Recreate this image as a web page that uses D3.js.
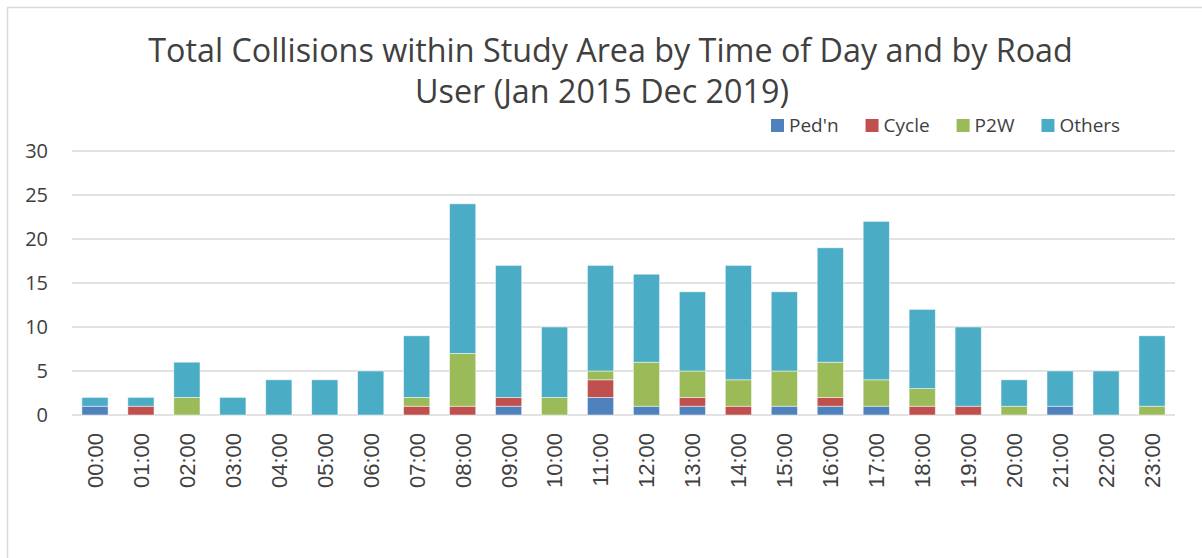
<!DOCTYPE html>
<html>
<head>
<meta charset="utf-8">
<script src="https://cdn.jsdelivr.net/npm/d3@7"></script>
<style>
  html, body { margin: 0; padding: 0; background: #fff; }
  svg { display: block; }
</style>
</head>
<body>
<svg id="chart" width="1202" height="558"></svg>
<script>
// ---- Data ----
const hours = ["00:00","01:00","02:00","03:00","04:00","05:00","06:00","07:00","08:00","09:00","10:00","11:00",
               "12:00","13:00","14:00","15:00","16:00","17:00","18:00","19:00","20:00","21:00","22:00","23:00"];
const seriesNames = ["Ped'n", "Cycle", "P2W", "Others"];
const pedn   = [1,0,0,0,0,0,0,0,0,1,0,2,1,1,0,1,1,1,0,0,0,1,0,0];
const cycle  = [0,1,0,0,0,0,0,1,1,1,0,2,0,1,1,0,1,0,1,1,0,0,0,0];
const p2w    = [0,0,2,0,0,0,0,1,6,0,2,1,5,3,3,4,4,3,2,0,1,0,0,1];
const others = [1,1,4,2,4,4,5,7,17,15,8,12,10,9,13,9,13,18,9,9,3,4,5,8];
const yTicks = [0,5,10,15,20,25,30];
const titleLines = ["Total Collisions within Study Area by Time of Day and by Road", "User (Jan 2015 Dec 2019)"];
const colors = ["#4F81BD", "#C0504D", "#9BBB59", "#4BACC6"];

// ---- Build table ----
const seriesValues = [pedn, cycle, p2w, others];
const table = hours.map((h, i) => {
  const row = { hour: h };
  seriesNames.forEach((s, k) => row[s] = seriesValues[k][i]);
  return row;
});
const stacked = d3.stack().keys(seriesNames)(table);

const svg = d3.select("#chart");
const plot = { left: 72, right: 1175, top: 151, bottom: 415 };

// chart border
svg.append("rect")
  .attr("x", 7.5).attr("y", 7.5).attr("width", 1300).attr("height", 600)
  .attr("fill", "none").attr("stroke", "#d9d9d9").attr("stroke-width", 1.5);

const x = d3.scaleBand().domain(hours).range([plot.left, plot.right])
  .paddingInner(0.43).paddingOuter(0.215);
const y = d3.scaleLinear().domain([0, 30]).range([plot.bottom, plot.top]);

// gridlines
svg.append("g").selectAll("line").data(yTicks).join("line")
  .attr("x1", plot.left).attr("x2", plot.right)
  .attr("y1", d => y(d)).attr("y2", d => y(d))
  .attr("stroke", "#d9d9d9").attr("stroke-width", 1.5);

// y tick labels
svg.append("g").selectAll("text").data(yTicks).join("text")
  .attr("x", 48).attr("y", d => y(d)).attr("dy", "0.36em")
  .attr("text-anchor", "end")
  .attr("font-family", "'Open Sans', sans-serif").attr("font-size", 20)
  .attr("fill", "#404040")
  .text(d => d);

// bars
svg.append("g").selectAll("g").data(stacked).join("g")
  .attr("fill", (d, i) => colors[i])
  .selectAll("rect").data(d => d.filter(v => v[1] - v[0] > 0)).join("rect")
  .attr("x", d => x(d.data.hour))
  .attr("width", x.bandwidth())
  .attr("y", d => y(d[1]))
  .attr("height", d => y(d[0]) - y(d[1]))
  .attr("stroke", "#ffffff").attr("stroke-opacity", 0.6).attr("stroke-width", 0.8);

// x labels
svg.append("g").selectAll("text").data(hours).join("text")
  .attr("transform", d => `translate(${x(d) + x.bandwidth() / 2},433) rotate(-90)`)
  .attr("dy", "0.36em")
  .attr("text-anchor", "end")
  .attr("font-family", "'Liberation Sans', Arial, sans-serif").attr("font-size", 22)
  .attr("fill", "#404040")
  .text(d => d);

// title
const t1 = svg.append("text")
  .attr("x", 610.5).attr("y", 62).attr("text-anchor", "middle")
  .attr("font-family", "'Open Sans', sans-serif").attr("font-size", 30)
  .attr("fill", "#404040").text(titleLines[0]);
const w1 = t1.node().getComputedTextLength();
const titleSize = 30 * 925 / w1;
t1.attr("font-size", titleSize);
svg.append("text")
  .attr("x", 602).attr("y", 103).attr("text-anchor", "middle")
  .attr("font-family", "'Open Sans', sans-serif").attr("font-size", titleSize)
  .attr("fill", "#404040").text(titleLines[1]);

// legend
let lx = 771;
seriesNames.forEach((s, i) => {
  svg.append("rect").attr("x", lx).attr("y", 119).attr("width", 13).attr("height", 13)
    .attr("fill", colors[i]);
  const t = svg.append("text").attr("x", lx + 18).attr("y", 132)
    .attr("font-family", "'Open Sans', sans-serif").attr("font-size", 19)
    .attr("fill", "#404040").text(s);
  lx = lx + 18 + t.node().getComputedTextLength() + 27;
});
</script>
</body>
</html>
